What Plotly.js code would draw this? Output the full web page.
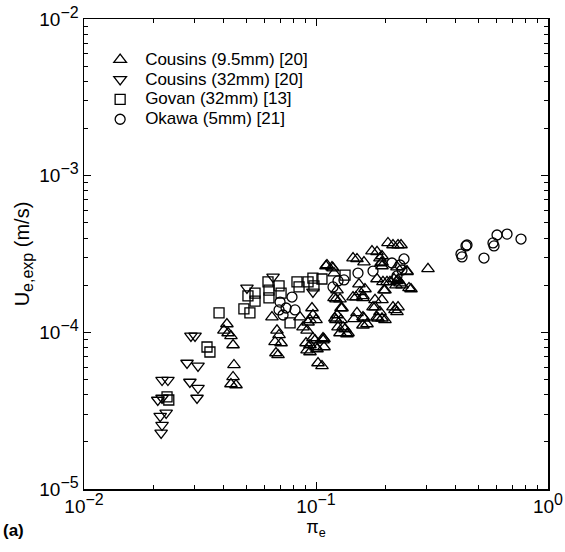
<!DOCTYPE html>
<html>
<head>
<meta charset="utf-8">
<script src="https://cdn.plot.ly/plotly-3.0.1.min.js"></script>
<style>html,body{margin:0;padding:0;background:#fff;}#chart{width:565px;height:552px;}</style>
</head>
<body>
<div id="chart"></div>
<script>
// Cousins (9.5mm) [20] — upward triangles
const cousins95_x = [0.0413,0.0401,0.0418,0.0430,0.0439,0.0443,0.0439,0.0430,0.0452,
  0.0646,0.0679,0.0693,0.0666,0.0707,0.0672,0.0686,
  0.0853,0.0879,0.0915,0.0961,0.0970,0.0942,0.1000,0.0906,0.0942,0.0990,0.1083,0.1010,0.0915,0.1020,0.1061,
  0.0924,0.0970,0.1000,0.1072,0.0942,
  0.1115,0.1184,0.1196,0.1196,0.1232,0.1232,0.1244,0.1295,0.1269,0.1207,0.1308,0.1269,0.1360,0.1282,0.1219,0.1334,0.1374,0.1083,0.1072,
  0.1444,0.1502,0.1594,0.1610,0.1659,0.1444,0.1502,0.1610,0.1487,0.1532,0.1548,0.1626,0.1458,0.1594,0.1594,
  0.1743,0.1832,0.1887,0.1925,0.1832,0.1944,0.1983,0.1796,0.1925,0.1761,0.1887,0.1850,
  0.2147,0.2190,0.2043,0.2147,0.2257,0.2325,0.2084,0.2212,0.1796,0.1832,0.1983,0.2023,0.1963,
  0.2169,0.2234,0.2302,0.2467,0.2517,0.2348,0.1925,0.1925,0.2234,0.2467,0.2257,0.2567,0.2257,0.2234,0.1925,
  0.3039,0.1104,0.1172,0.1906,0.1594,0.1282,0.1219];
const cousins95_y = [1.13e-4,1.03e-4,9.90e-5,9.48e-5,8.30e-5,6.19e-5,5.19e-5,4.68e-5,4.61e-5,
  1.25e-4,1.03e-4,9.62e-5,8.68e-5,8.55e-5,7.38e-5,7.17e-5,
  1.25e-4,1.08e-4,1.03e-4,1.43e-4,1.29e-4,1.20e-4,1.20e-4,8.55e-5,8.30e-5,8.93e-5,9.07e-5,7.83e-5,7.71e-5,6.37e-5,6.10e-5,
  1.16e-4,9.20e-5,8.06e-5,8.93e-5,7.49e-5,
  2.69e-4,2.57e-4,2.39e-4,1.66e-4,1.86e-4,1.29e-4,1.08e-4,1.43e-4,1.63e-4,1.23e-4,1.08e-4,9.90e-5,9.76e-5,1.20e-4,1.20e-4,1.05e-4,9.90e-5,8.06e-5,9.20e-5,
  1.68e-4,1.33e-4,1.71e-4,1.23e-4,1.13e-4,2.98e-4,2.94e-4,2.81e-4,1.68e-4,2.03e-4,1.81e-4,1.89e-4,1.22e-4,1.25e-4,1.11e-4,
  3.30e-4,3.26e-4,2.98e-4,2.65e-4,2.19e-4,2.10e-4,1.86e-4,1.61e-4,1.61e-4,1.45e-4,1.35e-4,1.23e-4,
  1.45e-4,1.39e-4,3.72e-4,3.61e-4,3.61e-4,3.61e-4,2.10e-4,2.00e-4,1.45e-4,1.25e-4,1.20e-4,2.10e-4,1.86e-4,
  2.19e-4,2.13e-4,2.06e-4,2.46e-4,1.92e-4,2.00e-4,3.07e-4,2.81e-4,2.61e-4,2.43e-4,2.16e-4,1.89e-4,1.45e-4,1.35e-4,1.23e-4,
  2.54e-4,2.65e-4,2.61e-4,2.77e-4,1.66e-4,1.43e-4,1.63e-4];

// Cousins (32mm) [20] — downward triangles
const cousins32_x = [0.0217,0.0230,0.0208,0.0217,0.0213,0.0226,0.0217,0.0215,
  0.0278,0.0310,0.0286,0.0310,0.0307,0.0289,0.0301,0.0504,0.0653,0.0970];
const cousins32_y = [4.96e-5,4.96e-5,3.70e-5,3.81e-5,2.92e-5,3.06e-5,2.56e-5,2.28e-5,
  6.37e-5,6.10e-5,4.82e-5,4.41e-5,3.81e-5,9.48e-5,9.48e-5,1.92e-4,2.26e-4,1.81e-4];

// Govan (32mm) [13] — squares
const govan_x = [0.0228,0.0232,0.0339,0.0349,0.0382,0.0489,0.0519,0.0509,0.0546,0.0546,
  0.0621,0.0627,0.0627,0.0693,0.0707,0.0773,0.0828,0.0845,0.0924,0.0970,0.0980,0.1061,0.1334];
const govan_y = [3.87e-5,3.70e-5,8.06e-5,7.49e-5,1.33e-4,1.41e-4,1.33e-4,1.71e-4,1.78e-4,1.58e-4,
  2.10e-4,1.86e-4,1.66e-4,1.98e-4,1.78e-4,1.15e-4,2.10e-4,1.95e-4,2.10e-4,2.22e-4,1.98e-4,2.19e-4,2.32e-4];

// Okawa (5mm) [21] — circles
const okawa_x = [0.0700,0.0788,0.0743,0.0721,0.0812,0.0693,0.1184,0.1244,0.1320,0.1517,0.1761,
  0.2126,0.2302,0.2348,0.2234,0.2395,0.4217,0.4259,0.4431,0.4475,0.5298,0.5793,0.5851,0.6030,0.6658,0.7649];
const okawa_y = [1.56e-4,1.68e-4,1.43e-4,1.29e-4,1.39e-4,1.39e-4,1.95e-4,2.13e-4,2.16e-4,2.39e-4,2.46e-4,
  2.77e-4,2.69e-4,2.50e-4,2.29e-4,2.94e-4,3.16e-4,3.03e-4,3.56e-4,3.61e-4,2.98e-4,3.72e-4,3.56e-4,4.18e-4,4.24e-4,3.94e-4];

const seriesNames = ['Cousins (9.5mm) [20]','Cousins (32mm) [20]','Govan (32mm) [13]','Okawa (5mm) [21]'];
const xTickVals = [0.01, 0.1, 1];
const xTickExp = ['−2','−1','0'];
const yTickVals = [1e-5, 1e-4, 1e-3, 1e-2];
const yTickExp = ['−5','−4','−3','−2'];

const FONT = 'Liberation Sans, Arial, Helvetica, sans-serif';
const supLabel = e => '10<sup><span style="font-size:16px">' + e + '</span></sup>';
const big = s => '<span style="font-size:17px">' + s + '</span>';

function mk(x, y, name, symbol, size) {
  return {x: x, y: y, name: big(name), type: 'scatter', mode: 'markers', cliponaxis: false,
    marker: {symbol: symbol, size: size, color: '#000', line: {color: '#000', width: 1.3}}};
}
const data = [
  mk(cousins95_x, cousins95_y, seriesNames[0], 'triangle-up-open', 11),
  mk(cousins32_x, cousins32_y, seriesNames[1], 'triangle-down-open', 11),
  mk(govan_x, govan_y, seriesNames[2], 'square-open', 10),
  mk(okawa_x, okawa_y, seriesNames[3], 'circle-open', 10)
];
const axisCommon = {
  type: 'log', showgrid: false, zeroline: false, showline: true, linecolor: '#000', linewidth: 1.5,
  mirror: 'ticks', ticks: 'inside', ticklen: 7, tickwidth: 1, tickcolor: '#000',
  tickmode: 'array', tickfont: {family: FONT, size: 19, color: '#000'},
  minor: {ticks: 'inside', ticklen: 4, tickwidth: 1, tickcolor: '#000', dtick: 'D1', showgrid: false}
};
const layout = {
  width: 565, height: 552,
  margin: {l: 84, r: 17, t: 19, b: 63},
  paper_bgcolor: '#fff', plot_bgcolor: '#fff',
  font: {family: FONT, size: 17, color: '#000'},
  showlegend: true,
  legend: {x: 0.024, y: 0.9455, xanchor: 'left', yanchor: 'top', bgcolor: 'rgba(0,0,0,0)',
    itemwidth: 40, font: {family: FONT, size: 13, color: '#000'}, tracegroupgap: 0},
  xaxis: Object.assign({}, axisCommon, {range: [-2, 0], tickvals: xTickVals, ticktext: xTickExp.map(supLabel),
    title: {text: 'π<sub>e</sub>', font: {family: FONT, size: 18, color: '#000'}, standoff: 0}}),
  yaxis: Object.assign({}, axisCommon, {range: [-5, -2], tickvals: yTickVals, ticktext: yTickExp.map(supLabel),
    title: {text: 'U<sub><span style="font-size:16px">e,exp</span></sub> (m/s)', font: {family: FONT, size: 20, color: '#000'}, standoff: 4}}),
  annotations: [{text: '<b>(a)</b>', xref: 'paper', yref: 'paper', x: -0.178, y: -0.089,
    xanchor: 'left', yanchor: 'middle', showarrow: false, font: {family: FONT, size: 17, color: '#000'}}]
};
Plotly.newPlot('chart', data, layout, {displayModeBar: false, staticPlot: true});
</script>
</body>
</html>
